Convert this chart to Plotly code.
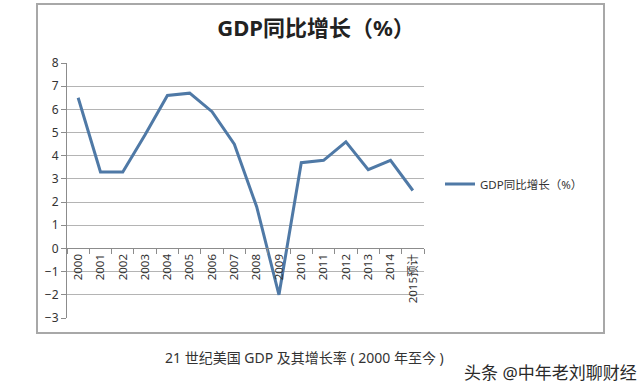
import plotly.graph_objects as go

categories = ["2000", "2001", "2002", "2003", "2004", "2005", "2006", "2007",
              "2008", "2009", "2010", "2011", "2012", "2013", "2014", "2015预计"]
growth = [6.5, 3.3, 3.3, 4.9, 6.6, 6.7, 5.9, 4.5, 1.8, -2.0, 3.7, 3.8, 4.6, 3.4, 3.8, 2.5]
series_name = "GDP同比增长（%）"
title_text = "GDP同比增长（%）"
caption_text = "21 世纪美国 GDP 及其增长率 ( 2000 年至今 )"
watermark_text = "头条 @中年老刘聊财经"
y_min, y_max = -3, 8

W, H = 640, 391
pw, ph = 357, 255
L, T = 67, 63
R, B = W - L - pw, H - T - ph

def px(x):
    return (x - L) / pw

def py(y):
    return (T + ph - y) / ph

FONT = "Noto Sans, Noto Sans CJK SC, sans-serif"
LINE = "#4f79a6"
GRID = "#b4b4b4"

fig = go.Figure()
fig.add_trace(go.Scatter(
    x=categories, y=growth, mode="lines", name=series_name,
    line=dict(color=LINE, width=3), showlegend=True,
))

fig.update_layout(
    width=W, height=H,
    margin=dict(l=L, r=R, t=T, b=B, autoexpand=False),
    paper_bgcolor="white", plot_bgcolor="white",
    font=dict(family=FONT, size=11, color="#333333"),
    title=dict(text="<b>" + title_text + "</b>", xref="container", x=316 / W,
               xanchor="center", yref="container", y=1 - 28 / H, yanchor="middle",
               font=dict(size=22, color="#222222", family=FONT)),
    showlegend=True,
    legend=dict(x=px(440), y=py(184), xanchor="left", yanchor="middle",
                font=dict(size=11.5, color="#333333"), bgcolor="rgba(0,0,0,0)",
                itemwidth=30),
    xaxis=dict(type="category", anchor="free",
               position=(0 - y_min) / (y_max - y_min),
               showline=True, linecolor="#8c8c8c", linewidth=1,
               showgrid=False, ticks="outside", tickson="boundaries",
               ticklen=5, tickcolor="#8c8c8c", tickangle=-90,
               tickfont=dict(size=11.5, color="#333333"),
               range=[-0.5, len(categories) - 0.5], fixedrange=True),
    yaxis=dict(range=[y_min, y_max], dtick=1, showline=True, linecolor="#8c8c8c",
               linewidth=1, ticks="outside", ticklen=5, tickcolor="#8c8c8c",
               showgrid=True, gridcolor=GRID, gridwidth=1, zeroline=False,
               tickfont=dict(size=12, color="#333333"), fixedrange=True),
)

# outer chart frame
fig.add_shape(type="rect", xref="paper", yref="paper",
              x0=px(37), x1=px(604), y0=py(333), y1=py(4),
              line=dict(color="#a8a8a8", width=2), fillcolor="rgba(0,0,0,0)", layer="below")

fig.add_annotation(text=caption_text, xref="paper", yref="paper",
                   x=px(163), y=py(357), xanchor="left", yanchor="middle",
                   showarrow=False, font=dict(size=14, color="#333333", family=FONT))
fig.add_annotation(text=watermark_text, xref="paper", yref="paper",
                   x=px(462), y=py(372), xanchor="left", yanchor="middle",
                   showarrow=False, font=dict(size=17, color="#2a2a2a", family=FONT))

fig.write_html("out.html", config={"displayModeBar": False},
               post_script="document.body.style.margin='0';")
